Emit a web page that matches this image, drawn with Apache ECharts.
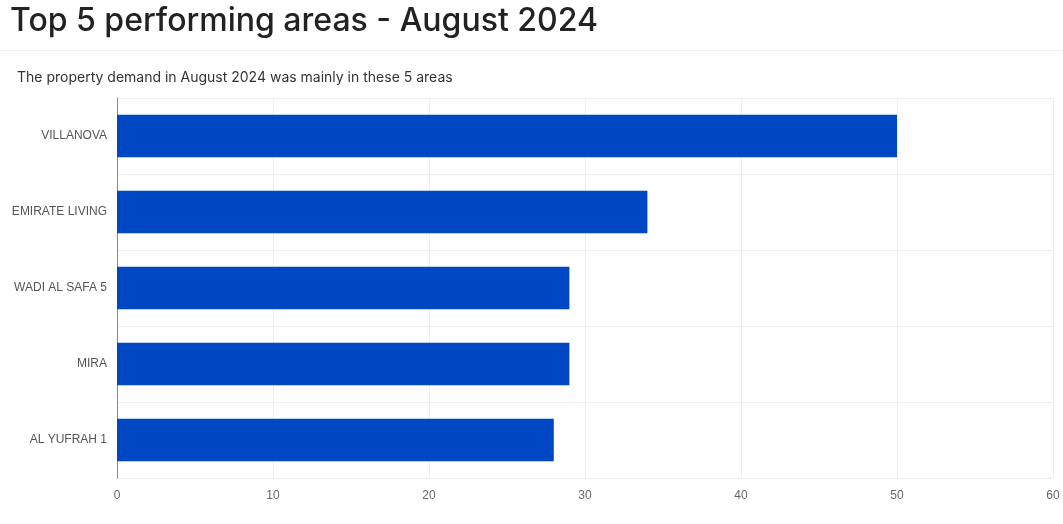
<!DOCTYPE html>
<html><head><meta charset="utf-8">
<script src="https://cdn.jsdelivr.net/npm/echarts@6/dist/echarts.min.js"></script>
<style>html,body{margin:0;padding:0;background:#fff;}
#t{position:absolute;left:10px;top:0px;font:500 32px 'Inter','Noto Sans',sans-serif;color:#222;}
#sep{position:absolute;left:0;top:50px;width:1063px;height:1px;background:#eee;}
#c{position:absolute;left:0;top:0;width:1063px;height:524px;}
</style></head><body>
<div id="c"></div><div id="t">Top 5 performing areas - August 2024</div><div id="sep"></div>
<script>
const categories=['VILLANOVA','EMIRATE LIVING','WADI AL SAFA 5','MIRA','AL YUFRAH 1'];
const values=[50,34,29,29,28];
const ticks=[0,10,20,30,40,50,60];
const ch=echarts.init(document.getElementById('c'));
ch.setOption({
 title:{text:'The property demand in August 2024 was mainly in these 5 areas',left:12,top:66,textStyle:{fontSize:14,fontWeight:'normal',color:'#333',fontFamily:'Inter, Noto Sans, sans-serif'}},
 grid:{left:117,right:10,top:98,bottom:46},
 xAxis:{type:'value',min:0,max:60,interval:10,axisLabel:{color:'#666',fontSize:12,margin:12},splitLine:{lineStyle:{color:'#eee'}},axisLine:{show:false},axisTick:{show:false}},
 yAxis:{type:'category',inverse:true,data:categories,axisLine:{lineStyle:{color:'#888'}},axisTick:{show:false},axisLabel:{color:'#555',fontSize:12,margin:10},splitLine:{show:true,lineStyle:{color:'#eee'}}},
 series:[{type:'bar',data:values,barWidth:'56%',itemStyle:{color:'#0047c4'},animation:false}]
});
</script></body></html>
